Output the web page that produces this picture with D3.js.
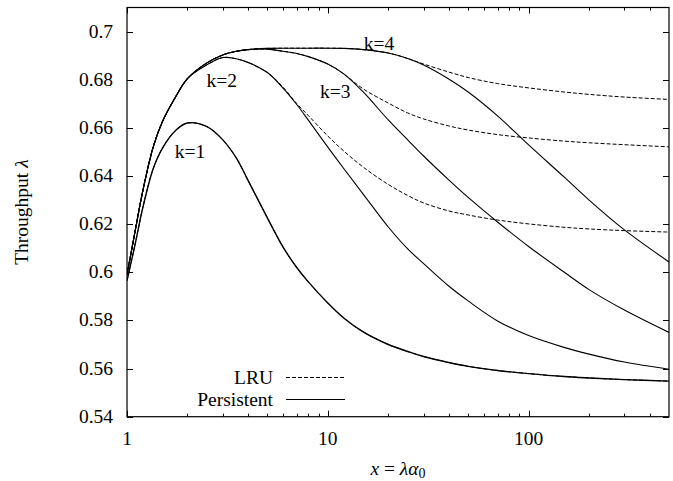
<!DOCTYPE html>
<html>
<style>
body { margin: 0; background: #fff; }
text { font-family: "Liberation Serif", "DejaVu Serif", serif; fill: #000; }
</style>
<body>
<script src="https://d3js.org/d3.v7.min.js"></script>
<script>
var xs = [1, 1.1, 1.2, 1.35, 1.5, 1.75, 2, 2.5, 3, 3.5, 4, 5, 6, 7, 8, 10, 12, 15, 20, 25, 30, 40, 50, 70, 100, 150, 200, 300, 500];

// shared rising part of k=2,3,4 (x = 1 .. 4)
var rise = [0.599, 0.6175, 0.634, 0.652, 0.6625, 0.673, 0.6805, 0.6870, 0.6903, 0.6918, 0.6925];

var k1Persistent = [0.5965, 0.612, 0.627, 0.643, 0.6515, 0.659, 0.662, 0.6605, 0.6550, 0.6475, 0.6383, 0.6226, 0.6103, 0.6020, 0.5960, 0.5872, 0.5810, 0.5752, 0.5700, 0.5671, 0.5650, 0.5625, 0.5609, 0.5592, 0.5579, 0.5567, 0.5561, 0.5554, 0.5548];
var k1LRU = [0.5965, 0.612, 0.627, 0.643, 0.6515, 0.659, 0.662, 0.6605, 0.6550, 0.6475, 0.6383, 0.6226, 0.6103, 0.6020, 0.5960, 0.5872, 0.5810, 0.5752, 0.5700, 0.5671, 0.5650, 0.5625, 0.5609, 0.5592, 0.5579, 0.5567, 0.5561, 0.5554, 0.5548];

var k2Persistent = rise.slice(0, 7).concat([0.6862, 0.6892, 0.6887, 0.6872, 0.6830, 0.6764, 0.6697, 0.6632, 0.6520, 0.6431, 0.6325, 0.6188, 0.6097, 0.6036, 0.5943, 0.5881, 0.5798, 0.5737, 0.5688, 0.5660, 0.5627, 0.5597]);
var k2LRU = rise.slice(0, 7).concat([0.6862, 0.6892, 0.6887, 0.6872, 0.6830, 0.6768, 0.6701, 0.6651, 0.6566, 0.6504, 0.6437, 0.6365, 0.6319, 0.6288, 0.6255, 0.6238, 0.6217, 0.6201, 0.6187, 0.6180, 0.6173, 0.6167]);

var k3Persistent = rise.concat([0.6927, 0.6918, 0.6909, 0.6896, 0.6865, 0.6824, 0.6749, 0.6633, 0.6550, 0.6483, 0.6384, 0.6311, 0.6209, 0.6107, 0.6001, 0.5928, 0.5843, 0.5750]);
var k3LRU = rise.concat([0.6927, 0.6918, 0.6909, 0.6896, 0.6865, 0.6824, 0.6762, 0.6703, 0.6662, 0.6637, 0.6608, 0.6591, 0.6572, 0.6558, 0.6545, 0.6538, 0.6530, 0.6521]);

var k4Persistent = rise.concat([0.6930, 0.6931, 0.6931, 0.6931, 0.6931, 0.6930, 0.6925, 0.6911, 0.6888, 0.6861, 0.6803, 0.6749, 0.6650, 0.6529, 0.6396, 0.6300, 0.6176, 0.6043]);
var k4LRU = rise.concat([0.6930, 0.6931, 0.6931, 0.6931, 0.6931, 0.6930, 0.6925, 0.6911, 0.6888, 0.6865, 0.6832, 0.6809, 0.6784, 0.6766, 0.6749, 0.6739, 0.6728, 0.6718]);

var yTicks = [0.54, 0.56, 0.58, 0.6, 0.62, 0.64, 0.66, 0.68, 0.7];
var xTicks = [1, 10, 100];
var xMinor = [2, 3, 4, 5, 6, 7, 8, 9, 20, 30, 40, 50, 60, 70, 80, 90, 200, 300, 400];

var curveLabels = ["k=1", "k=2", "k=3", "k=4"];
var labelPos = [[2.06, 0.6474], [2.96, 0.6771], [10.9, 0.6723], [18, 0.6923]];

var width = 673, height = 481;
var mLeft = 127, mRight = 669, mTop = 7.5, mBottom = 416.7;

var svg = d3.select("body")
  .append("svg")
  .attr("width", width)
  .attr("height", height);

var x = d3.scaleLog().domain([1, 500]).range([mLeft, mRight]);
var y = d3.scaleLinear().domain([0.54, 0.71]).range([mBottom, mTop]);

// ticks (inside, mirrored)
var ticks = svg.append("g").attr("stroke", "#000").attr("stroke-width", 1);
yTicks.forEach(function(t) {
  var yy = Math.round(y(t)) + 0.5;
  ticks.append("line").attr("x1", mLeft).attr("x2", mLeft + 6).attr("y1", yy).attr("y2", yy);
  ticks.append("line").attr("x1", mRight).attr("x2", mRight - 6).attr("y1", yy).attr("y2", yy);
});
xTicks.forEach(function(t) {
  var xx = Math.round(x(t)) + 0.5;
  ticks.append("line").attr("x1", xx).attr("x2", xx).attr("y1", mBottom).attr("y2", mBottom - 6);
  ticks.append("line").attr("x1", xx).attr("x2", xx).attr("y1", mTop).attr("y2", mTop + 6);
});
xMinor.forEach(function(t) {
  var xx = Math.round(x(t)) + 0.5;
  ticks.append("line").attr("x1", xx).attr("x2", xx).attr("y1", mBottom).attr("y2", mBottom - 3);
  ticks.append("line").attr("x1", xx).attr("x2", xx).attr("y1", mTop).attr("y2", mTop + 3);
});

svg.append("g").selectAll("text")
  .data(yTicks)
  .enter().append("text")
  .attr("x", 113)
  .attr("y", function(d) { return y(d) + 6; })
  .attr("text-anchor", "end")
  .attr("font-size", "19.5px")
  .text(function(d) { return d; });

svg.append("g").selectAll("text")
  .data(xTicks)
  .enter().append("text")
  .attr("x", function(d) { return x(d); })
  .attr("y", 444.5)
  .attr("text-anchor", "middle")
  .attr("font-size", "19.5px")
  .text(function(d) { return d; });

// curves
var line = d3.line()
  .x(function(d, i) { return x(xs[i]); })
  .y(function(d) { return y(d); })
  .curve(d3.curveCatmullRom.alpha(0.5));

svg.append("clipPath").attr("id", "plot")
  .append("rect").attr("x", mLeft).attr("y", mTop).attr("width", mRight - mLeft).attr("height", mBottom - mTop);

var plot = svg.append("g").attr("clip-path", "url(#plot)");

[k1Persistent, k2Persistent, k3Persistent, k4Persistent].forEach(function(s, i) {
  plot.append("path")
    .attr("d", line(s))
    .attr("fill", "none")
    .attr("stroke", "#000")
    .attr("stroke-width", i == 0 ? 1.4 : 1.1);
});
[k1LRU, k2LRU, k3LRU, k4LRU].forEach(function(s) {
  plot.append("path")
    .attr("d", line(s))
    .attr("fill", "none")
    .attr("stroke", "#000")
    .attr("stroke-width", 1)
    .attr("stroke-dasharray", "4,2");
});

// frame
svg.append("rect")
  .attr("x", mLeft).attr("y", mTop)
  .attr("width", mRight - mLeft).attr("height", mBottom - mTop)
  .attr("fill", "none").attr("stroke", "#000").attr("stroke-width", 1.2);

// curve labels
svg.append("g").selectAll("text")
  .data(curveLabels)
  .enter().append("text")
  .attr("x", function(d, i) { return x(labelPos[i][0]); })
  .attr("y", function(d, i) { return y(labelPos[i][1]); })
  .attr("text-anchor", "middle")
  .attr("font-size", "19.5px")
  .text(function(d) { return d; });

// legend
var legend = svg.append("g");
legend.append("text").attr("x", 273).attr("y", 384).attr("text-anchor", "end").attr("font-size", "19.5px").text("LRU");
legend.append("line").attr("x1", 286).attr("x2", 345).attr("y1", 377.5).attr("y2", 377.5)
  .attr("stroke", "#000").attr("stroke-dasharray", "4,2");
legend.append("text").attr("x", 273).attr("y", 405.5).attr("text-anchor", "end").attr("font-size", "19.5px").text("Persistent");
legend.append("line").attr("x1", 286).attr("x2", 345).attr("y1", 399.5).attr("y2", 399.5)
  .attr("stroke", "#000");

// axis titles
var xt = svg.append("text")
  .attr("x", (mLeft + mRight) / 2)
  .attr("y", 475)
  .attr("text-anchor", "middle")
  .attr("font-size", "19.5px");
xt.append("tspan").attr("font-style", "italic").text("x");
xt.append("tspan").text(" = ");
xt.append("tspan").attr("font-style", "italic").text("λα");
xt.append("tspan").attr("font-size", "14px").attr("dy", 3).text("0");

var yt = svg.append("text")
  .attr("transform", "translate(28," + ((mTop + mBottom) / 2) + ") rotate(-90)")
  .attr("text-anchor", "middle")
  .attr("font-size", "19.5px");
yt.append("tspan").text("Throughput ");
yt.append("tspan").attr("font-style", "italic").text("λ");
</script>
</body>
</html>
